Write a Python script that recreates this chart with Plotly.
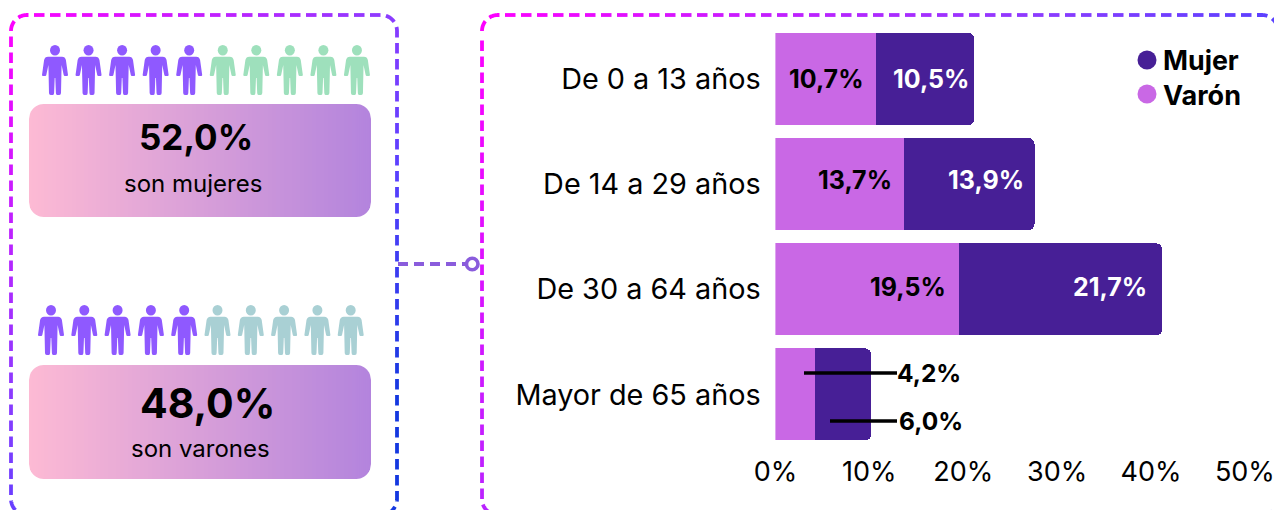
import math
import plotly.graph_objects as go

W, H = 1274, 510

# ---------- data ----------
categories = ["De 0 a 13 años", "De 14 a 29 años", "De 30 a 64 años", "Mayor de 65 años"]
varon = [10.7, 13.7, 19.5, 4.2]
mujer = [10.5, 13.9, 21.7, 6.0]
x_ticks = [0, 10, 20, 30, 40, 50]
x_tick_labels = ["0%", "10%", "20%", "30%", "40%", "50%"]
mujeres_total = "52,0%"
varones_total = "48,0%"

COL_MUJER = "#471f96"
COL_VARON = "#c968e5"
FONT = "Inter"


def px(x):
    return x / W


def py(y):
    return 1 - y / H


def fmt(v):
    return f"{v:.1f}".replace(".", ",") + "%"


def lerp_hex(stops, t):
    t = max(0, min(1, t))
    for (t0, c0), (t1, c1) in zip(stops, stops[1:]):
        if t <= t1:
            f = (t - t0) / (t1 - t0)
            a = [int(c0[i:i + 2], 16) for i in (1, 3, 5)]
            b = [int(c1[i:i + 2], 16) for i in (1, 3, 5)]
            return "rgb(%d,%d,%d)" % tuple(round(p + (q - p) * f) for p, q in zip(a, b))
    return stops[-1][1]


def poly(points, close=False):
    s = "M" + " L".join(f"{px(x):.5f},{py(y):.5f}" for x, y in points)
    return s + (" Z" if close else "")


shapes = []

# ---------- dashed gradient frames ----------
BORDER = [(0, "#ff00ff"), (0.5, "#8a3cff"), (0.7, "#5a40ff"), (1, "#1438e0")]


def rr_points(x0, y0, x1, y1, r, step=0.5):
    pts = []
    def seg(a, b):
        n = max(1, int(math.hypot(b[0] - a[0], b[1] - a[1]) / step))
        for i in range(n):
            pts.append((a[0] + (b[0] - a[0]) * i / n, a[1] + (b[1] - a[1]) * i / n))
    def arc(cx, cy, a0):
        for i in range(int(r * 1.57 / step)):
            a = a0 + (math.pi / 2) * i / (r * 1.57 / step)
            pts.append((cx + r * math.cos(a), cy + r * math.sin(a)))
    arc(x0 + r, y0 + r, math.pi)
    seg((x0 + r, y0), (x1 - r, y0))
    arc(x1 - r, y0 + r, -math.pi / 2)
    seg((x1, y0 + r), (x1, y1 - r))
    arc(x1 - r, y1 - r, 0)
    seg((x1 - r, y1), (x0 + r, y1))
    arc(x0 + r, y1 - r, math.pi / 2)
    seg((x0, y1 - r), (x0, y0 + r))
    return pts


def dashed_frame(x0, y0, x1, y1, r, kx, ky):
    pts = rr_points(x0, y0, x1, y1, r)
    dash, gap, step = 10.5, 5.5, 0.5
    per = int((dash + gap) / step)
    on = int(dash / step)
    for i in range(0, len(pts) - on, per):
        part = pts[i:i + on + 1]
        mx, my = part[len(part) // 2]
        if min(p[0] for p in part) > W + 3 or min(p[1] for p in part) > H + 3:
            continue
        t = kx * (mx - x0) / (x1 - x0) + ky * (my - y0) / (y1 - y0)
        shapes.append(dict(type="path", path=poly(part), xref="paper", yref="paper",
                           line=dict(color=lerp_hex(BORDER, t), width=3.8), layer="below"))


dashed_frame(11, 15, 397, 515, 16, 0.5, 0.65)
dashed_frame(482, 15, 1278, 515, 16, 0.7, 0.3)

# ---------- connector ----------
shapes.append(dict(type="line", xref="paper", yref="paper", x0=px(398), x1=px(466), y0=py(264), y1=py(264),
                   line=dict(color="#8a5cdc", width=3.8, dash="10px,6px"), layer="below"))
shapes.append(dict(type="circle", xref="paper", yref="paper", x0=px(466.5), x1=px(478), y0=py(258.2), y1=py(269.8),
                   fillcolor="white", line=dict(color="#8a5cdc", width=3.6)))

# ---------- gradient cards ----------
CARD = [(0, "#fdbad4"), (1, "#b384dd")]


def card(x0, y0, x1, y1, r):
    def inset(dx):
        if dx >= r:
            return 0
        return r - math.sqrt(max(0, r * r - (r - dx) ** 2))
    xs = []
    x = x0
    while x < x1:
        xs.append(x)
        x += 1 if (x - x0 < r or x1 - x <= r) else 4
    xs.append(x1)
    for a, b in zip(xs, xs[1:]):
        ia = inset(min(a - x0, x1 - a))
        ib = inset(min(b - x0, x1 - b))
        t = ((a + b) / 2 - x0) / (x1 - x0)
        shapes.append(dict(type="path", xref="paper", yref="paper", layer="below",
                           path=poly([(a, y0 + ia), (b, y0 + ib), (b, y1 - ib), (a, y1 - ia)], True),
                           fillcolor=lerp_hex(CARD, t), line=dict(width=0)))


card(29, 104, 371, 217, 15)
card(29, 365, 371, 479, 15)


# ---------- person icons ----------
def person(cx, top, color):
    def P(x, y):
        return f"{px(cx + x):.5f},{py(top + y):.5f}"
    d = ("M" + P(-7, 11.7) + " L" + P(7, 11.7) + " Q" + P(10.2, 11.8) + " " + P(10.9, 15)
         + " L" + P(13, 30) + " Q" + P(13, 31) + " " + P(12, 31) + " L" + P(9.8, 31) + " Q" + P(8.9, 31) + " " + P(8.7, 30)
         + " L" + P(6.6, 20) + " L" + P(6, 48) + " Q" + P(5.9, 50) + " " + P(4.3, 50)
         + " L" + P(2.2, 50) + " Q" + P(1, 50) + " " + P(0.9, 48) + " L" + P(0.3, 33) + " L" + P(-0.3, 33)
         + " L" + P(-0.9, 48) + " Q" + P(-1, 50) + " " + P(-2.2, 50) + " L" + P(-4.3, 50) + " Q" + P(-5.9, 50) + " " + P(-6, 48)
         + " L" + P(-6.6, 20) + " L" + P(-8.7, 30) + " Q" + P(-8.9, 31) + " " + P(-9.8, 31) + " L" + P(-12, 31) + " Q" + P(-13, 31) + " " + P(-13, 30)
         + " L" + P(-10.9, 15) + " Q" + P(-10.2, 11.8) + " " + P(-7, 11.7) + " Z")
    shapes.append(dict(type="path", xref="paper", yref="paper", path=d, fillcolor=color, line=dict(width=0), layer="below"))
    shapes.append(dict(type="circle", xref="paper", yref="paper", x0=px(cx - 5), x1=px(cx + 5), y0=py(top), y1=py(top + 10.4),
                       fillcolor=color, line=dict(width=0), layer="below"))


for i in range(10):
    person(55 + 33.55 * i, 45, "#8f59ff" if i < 5 else "#9ee0bc")
    person(51 + 33.3 * i, 305, "#8f59ff" if i < 5 else "#a9d0d4")

# ---------- legend dots ----------
for cy, col in [(60, COL_MUJER), (94, COL_VARON)]:
    shapes.append(dict(type="circle", xref="paper", yref="paper", x0=px(1137.5), x1=px(1156.5),
                       y0=py(cy - 9.5), y1=py(cy + 9.5), fillcolor=col, line=dict(width=0)))

# ---------- leader lines, last category ----------
shapes.append(dict(type="line", xref="paper", yref="paper", x0=px(804), x1=px(897), y0=py(373), y1=py(373),
                   line=dict(color="black", width=3.5)))
shapes.append(dict(type="line", xref="paper", yref="paper", x0=px(830), x1=px(897), y0=py(421), y1=py(421),
                   line=dict(color="black", width=3.5)))

# ---------- bars ----------
fig = go.Figure()
fig.add_bar(y=categories, x=varon, orientation="h", name="Varón", marker=dict(color=COL_VARON, line=dict(width=0)))
fig.add_bar(y=categories, x=mujer, orientation="h", name="Mujer", marker=dict(color=COL_MUJER, line=dict(width=0)))

annotations = []


def text(x, y, s, size, bold=False, anchor="center", color="black", family=FONT):
    annotations.append(dict(xref="paper", yref="paper", x=px(x), y=py(y), text=f"<b>{s}</b>" if bold else s,
                            showarrow=False, xanchor=anchor, yanchor="middle",
                            font=dict(family=family, size=size, color=color), borderpad=0, borderwidth=0))


# bar value labels
v_shift = [(10, 0), (10, 4), (11, 2)]
m_shift = [(3, 0), (9, 4), (13, 2)]
for i in range(3):
    annotations.append(dict(x=varon[i], y=categories[i], xref="x", yref="y", text=f"<b>{fmt(varon[i])}</b>",
                            showarrow=False, xanchor="right", yanchor="middle", xshift=-v_shift[i][0], yshift=v_shift[i][1],
                            font=dict(family=FONT, size=25, color="black")))
    annotations.append(dict(x=varon[i] + mujer[i], y=categories[i], xref="x", yref="y", text=f"<b>{fmt(mujer[i])}</b>",
                            showarrow=False, xanchor="right", yanchor="middle", xshift=-m_shift[i][0], yshift=m_shift[i][1],
                            font=dict(family=FONT, size=25, color="white")))
text(897, 373, fmt(varon[3]), 24.5, True, "left")
text(899, 421, fmt(mujer[3]), 24.5, True, "left")

# legend and cards
text(1163, 60, "Mujer", 26.8, True, "left")
text(1163, 95, "Varón", 27, True, "left")
text(196, 137, mujeres_total, 35, True)
text(192.5, 183, "son mujeres", 24)
text(207, 403, varones_total, 41, True)
text(200, 448, "son varones", 24)

fig.update_layout(
    width=W, height=H, margin=dict(l=0, r=0, t=0, b=0, autoexpand=False),
    paper_bgcolor="white", plot_bgcolor="rgba(0,0,0,0)",
    barmode="stack", bargap=0.124, barcornerradius=6, showlegend=False,
    font=dict(family=FONT, color="black"),
    shapes=shapes, annotations=annotations,
    xaxis=dict(domain=[px(775.4), px(1244.9)], range=[0, 50], tickvals=x_ticks, ticktext=x_tick_labels,
               showgrid=False, zeroline=False, showline=False, ticks="outside", ticklen=1, tickcolor="rgba(0,0,0,0)",
               ticklabeloverflow="allow",
               tickfont=dict(family=FONT, size=27, color="black")),
    yaxis=dict(domain=[py(447), py(26.5)], autorange="reversed", showgrid=False, zeroline=False, showline=False,
               ticks="outside", ticklen=8, tickcolor="rgba(0,0,0,0)",
               tickfont=dict(family=FONT, size=28.8, color="black")),
)

fig.write_html("out.html", post_script="document.body.style.margin='0';document.body.style.overflow='hidden';",
               config=dict(displayModeBar=False))
